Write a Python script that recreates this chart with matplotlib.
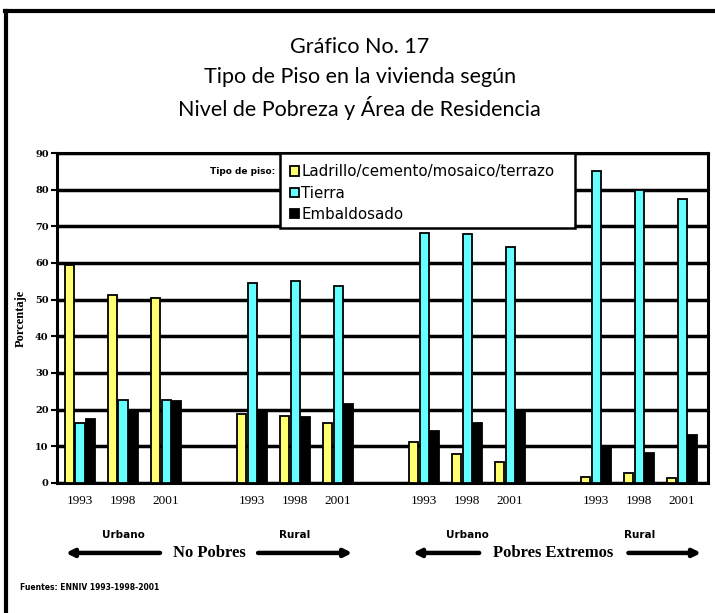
import numpy as np
import matplotlib.pyplot as plt
from matplotlib.patches import Rectangle
from matplotlib.lines import Line2D

# datos (porcentaje)
years = ["1993", "1998", "2001"]
areas = ["Urbano", "Rural", "Urbano", "Rural"]
niveles = ["No Pobres", "Pobres Extremos"]
series = ["Ladrillo/cemento/mosaico/terrazo", "Tierra", "Embaldosado"]

ladrillo = [59.5, 51.3, 50.5, 18.8, 18.3, 16.4, 11.2, 8.0, 5.8, 1.5, 2.7, 1.3]
tierra = [16.4, 22.5, 22.6, 54.5, 55.1, 53.7, 68.2, 67.9, 64.4, 85.1, 79.9, 77.4]
embaldosado = [17.4, 19.9, 22.3, 20.0, 18.0, 21.5, 14.2, 16.4, 19.9, 10.0, 8.3, 13.0]

colors = ["#ffff70", "#66ffff", "#000000"]

# posiciones: 4 bloques de 3 anos, con un hueco entre bloques
pos = np.array([b * 4 + i for b in range(4) for i in range(3)], dtype=float)

fig = plt.figure(figsize=(7.15, 6.13), dpi=100)
ax = fig.add_axes([0.0797, 0.2121, 0.9105, 0.5383])

w = 0.21
offsets = [-0.24, 0.0, 0.24]
for vals, off, c, lab in zip([ladrillo, tierra, embaldosado], offsets, colors, series):
    ax.bar(pos + off, vals, width=w, color=c, edgecolor="black", linewidth=1.3,
           label=lab, zorder=4)

ax.set_ylim(0, 90)
ax.set_xlim(-0.535, 14.6)
ax.set_yticks(range(0, 91, 10))
ax.set_yticklabels([str(v) for v in range(0, 91, 10)], fontsize=7,
                   fontweight="bold", family="DejaVu Serif")
ax.yaxis.grid(True, color="black", linewidth=2.5, zorder=1)
ax.set_axisbelow(True)
for s in ax.spines.values():
    s.set_linewidth(2.2)
ax.tick_params(axis="y", length=4, width=1.5, pad=2)

ax.set_xticks(pos)
ax.set_xticklabels(years * 4, fontsize=9.5, family="Liberation Serif")
ax.tick_params(axis="x", length=0, pad=9)

ax.set_ylabel("Porcentaje", fontsize=9, fontweight="bold", family="Liberation Serif",
              labelpad=6)

# caja de leyenda sobre la cuadricula
box = Rectangle((0.3425, 0.773), 0.4532, 0.227, transform=ax.transAxes,
                facecolor="white", edgecolor="black", linewidth=1.8, zorder=5)
ax.add_patch(box)
leg = ax.legend(loc="upper left", bbox_to_anchor=(0.343, 0.995), frameon=False,
                prop={"family": "DejaVu Sans", "size": 10.8},
                handlelength=0.6, handleheight=0.6, handletextpad=0.15,
                labelspacing=0.42, borderaxespad=0.25)
leg.set_zorder(6)
ax.text(0.336, 0.945, "Tipo de piso:", transform=ax.transAxes, ha="right", va="center",
        fontsize=6.5, fontweight="bold", zorder=6)

# etiquetas de area
tr = ax.get_xaxis_transform()
for b, a in enumerate(areas):
    ax.text(b * 4 + 1, -0.158, a, transform=tr, ha="center", va="center",
            fontsize=7.5, fontweight="bold", family="Liberation Sans Narrow")

# flechas de nivel de pobreza
arrow_y = -0.212
arrows = [(1.86, -0.33), (4.14, 6.33), (9.28, 7.74), (12.75, 14.44)]
for x0, x1 in arrows:
    ax.annotate("", xy=(x1, arrow_y), xytext=(x0, arrow_y), xycoords=tr,
                textcoords=tr, annotation_clip=False,
                arrowprops=dict(arrowstyle="-|>", lw=3.2, color="black",
                                mutation_scale=11, shrinkA=0, shrinkB=0))
for x, n in zip([3.0, 11.0], niveles):
    ax.text(x, arrow_y, n, transform=tr, ha="center", va="center", fontsize=12,
            fontweight="bold", family="Liberation Serif")

# titulo
fig.text(0.503, 0.923, "Gráfico No. 17", ha="center", va="center", fontsize=15.5,
         family="Lato")
fig.text(0.503, 0.874, "Tipo de Piso en la vivienda según", ha="center", va="center",
         fontsize=15.5, family="Lato")
fig.text(0.503, 0.824, "Nivel de Pobreza y Área de Residencia", ha="center",
         va="center", fontsize=15.5, family="Lato")

fig.text(0.028, 0.041, "Fuentes: ENNIV 1993-1998-2001", ha="left", va="center",
         fontsize=5.5, fontweight="bold")

# marco de la pagina
fig.add_artist(Line2D([0.009, 0.009], [0.0, 0.982], transform=fig.transFigure,
                      color="black", linewidth=3))
fig.add_artist(Line2D([0.007, 1.0], [0.982, 0.982], transform=fig.transFigure,
                      color="black", linewidth=3))

fig.savefig("out.png", dpi=100)
